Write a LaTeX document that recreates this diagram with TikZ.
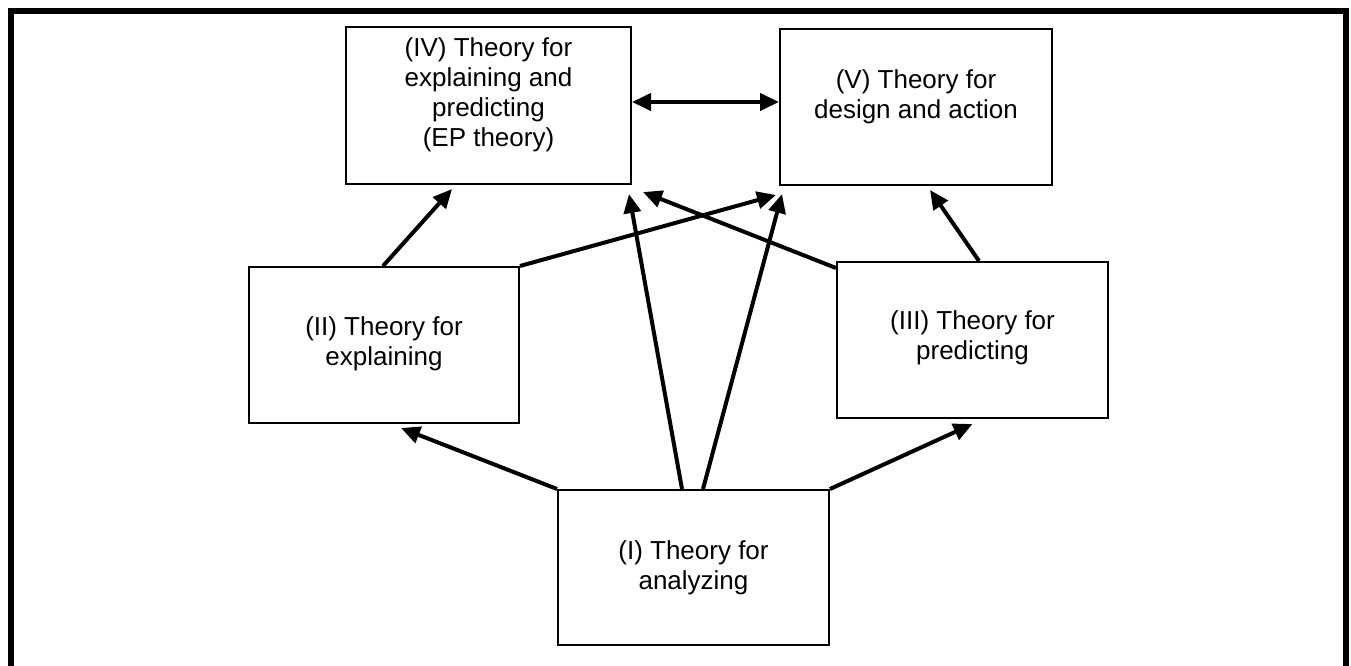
\documentclass[tikz,border=0pt]{standalone}
\usepackage{fontspec}
\setmainfont{Liberation Sans}
\usetikzlibrary{arrows.meta,calc}
\tikzset{
  box/.style={draw=black, line width=2pt, rectangle, inner sep=0pt},
  txt/.style={align=center, inner sep=0pt, font=\fontsize{26}{30}\selectfont},
  conn/.style={line width=4pt, -{Triangle[length=19pt,width=17pt]}},
  dconn/.style={line width=4pt, {Triangle[length=19pt,width=17pt]}-{Triangle[length=19pt,width=17pt]}},
}
\begin{document}
\begin{tikzpicture}[x=1pt,y=-1pt]
\useasboundingbox (0,0) rectangle (1351,665);
% outer frame (bottom cut off)
\draw[line width=6pt] (11,680) -- (11,11) -- (1346,11) -- (1346,680);
% boxes
\node[box, minimum width=285pt, minimum height=157pt] (IV) at (488.5,105.5) {};
\node[box, minimum width=272pt, minimum height=156pt] (V) at (916,107) {};
\node[box, minimum width=270pt, minimum height=156pt] (II) at (384,345) {};
\node[box, minimum width=271pt, minimum height=156pt] (III) at (972.5,340) {};
\node[box, minimum width=271pt, minimum height=155pt] (I) at (693.5,567.5) {};
% texts
\node[txt] (IVt) at ($(IV.center)+(0,-11)$) {(IV) Theory for\\explaining and\\predicting\\(EP theory)};
\node[txt] (Vt) at ($(V.center)+(0,-10)$) {(V) Theory for\\design and action};
\node[txt] (IIt) at ($(II.center)+(0,-1)$) {(II) Theory for\\explaining};
\node[txt] (IIIt) at ($(III.center)+(0,-2)$) {(III) Theory for\\predicting};
\node[txt] (It) at (I.center) {(I) Theory for\\analyzing};
% connectors
\draw[dconn] ($(IV.east)+(0,-3.5)$) -- ($(V.west)+(0,-5)$);
\draw[conn] ($(II.north)+(-1,0)$) -- ($(IV.south)+(-36.5,4)$);
\draw[conn] (II.north east) -- ($(V.south west)+(-3,9)$);
\draw[conn] ($(III.north west)+(0,7)$) -- ($(IV.south east)+(11,7)$);
\draw[conn] ($(III.north)+(6.5,0)$) -- ($(V.south)+(14,4)$);
\draw[conn] ($(I.north)+(-11.5,0)$) -- ($(IV.south east)+(-3,9)$);
\draw[conn] ($(I.north)+(9.5,0)$) -- ($(V.south west)+(3,8)$);
\draw[conn] (I.north west) -- ($(II.south)+(17,4)$);
\draw[conn] (I.north east) -- ($(III.south)+(0,5)$);
\end{tikzpicture}
\end{document}
